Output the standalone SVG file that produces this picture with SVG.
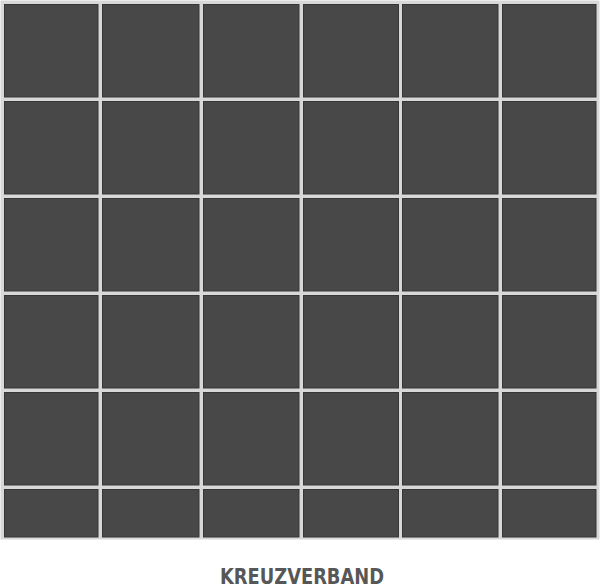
<svg xmlns="http://www.w3.org/2000/svg" width="600" height="588" viewBox="0 0 600 588">
<style>
.tile{fill:#484848;stroke:#363636;stroke-width:1}
.lbl{font-family:"DejaVu Sans","Liberation Sans",sans-serif;font-stretch:condensed;font-weight:bold;font-size:22px;fill:#575757}
</style>
<rect x="0" y="0" width="600" height="588" fill="#ffffff"/>
<g id="grid">
<rect x="0.5" y="0.5" width="599" height="539" fill="#d8d8d8"/>
<g id="tiles">
<g id="row1">
<rect class="tile" x="4.5" y="4.5" width="93.5" height="92.5"/>
<rect class="tile" x="102.5" y="4.5" width="96.5" height="92.5"/>
<rect class="tile" x="203.5" y="4.5" width="95.5" height="92.5"/>
<rect class="tile" x="303.5" y="4.5" width="95" height="92.5"/>
<rect class="tile" x="402.5" y="4.5" width="95.5" height="92.5"/>
<rect class="tile" x="502.5" y="4.5" width="93.5" height="92.5"/>
</g>
<g id="row2">
<rect class="tile" x="4.5" y="101.5" width="93.5" height="92.5"/>
<rect class="tile" x="102.5" y="101.5" width="96.5" height="92.5"/>
<rect class="tile" x="203.5" y="101.5" width="95.5" height="92.5"/>
<rect class="tile" x="303.5" y="101.5" width="95" height="92.5"/>
<rect class="tile" x="402.5" y="101.5" width="95.5" height="92.5"/>
<rect class="tile" x="502.5" y="101.5" width="93.5" height="92.5"/>
</g>
<g id="row3">
<rect class="tile" x="4.5" y="198.5" width="93.5" height="92.5"/>
<rect class="tile" x="102.5" y="198.5" width="96.5" height="92.5"/>
<rect class="tile" x="203.5" y="198.5" width="95.5" height="92.5"/>
<rect class="tile" x="303.5" y="198.5" width="95" height="92.5"/>
<rect class="tile" x="402.5" y="198.5" width="95.5" height="92.5"/>
<rect class="tile" x="502.5" y="198.5" width="93.5" height="92.5"/>
</g>
<g id="row4">
<rect class="tile" x="4.5" y="295.5" width="93.5" height="92.5"/>
<rect class="tile" x="102.5" y="295.5" width="96.5" height="92.5"/>
<rect class="tile" x="203.5" y="295.5" width="95.5" height="92.5"/>
<rect class="tile" x="303.5" y="295.5" width="95" height="92.5"/>
<rect class="tile" x="402.5" y="295.5" width="95.5" height="92.5"/>
<rect class="tile" x="502.5" y="295.5" width="93.5" height="92.5"/>
</g>
<g id="row5">
<rect class="tile" x="4.5" y="392.5" width="93.5" height="92.5"/>
<rect class="tile" x="102.5" y="392.5" width="96.5" height="92.5"/>
<rect class="tile" x="203.5" y="392.5" width="95.5" height="92.5"/>
<rect class="tile" x="303.5" y="392.5" width="95" height="92.5"/>
<rect class="tile" x="402.5" y="392.5" width="95.5" height="92.5"/>
<rect class="tile" x="502.5" y="392.5" width="93.5" height="92.5"/>
</g>
<g id="row6">
<rect class="tile" x="4.5" y="489.5" width="93.5" height="47.5"/>
<rect class="tile" x="102.5" y="489.5" width="96.5" height="47.5"/>
<rect class="tile" x="203.5" y="489.5" width="95.5" height="47.5"/>
<rect class="tile" x="303.5" y="489.5" width="95" height="47.5"/>
<rect class="tile" x="402.5" y="489.5" width="95.5" height="47.5"/>
<rect class="tile" x="502.5" y="489.5" width="93.5" height="47.5"/>
</g>
</g>
</g>
<g id="label">
<text class="lbl" x="220" y="583.5" textLength="164" lengthAdjust="spacingAndGlyphs">KREUZVERBAND</text>
</g>
</svg>
